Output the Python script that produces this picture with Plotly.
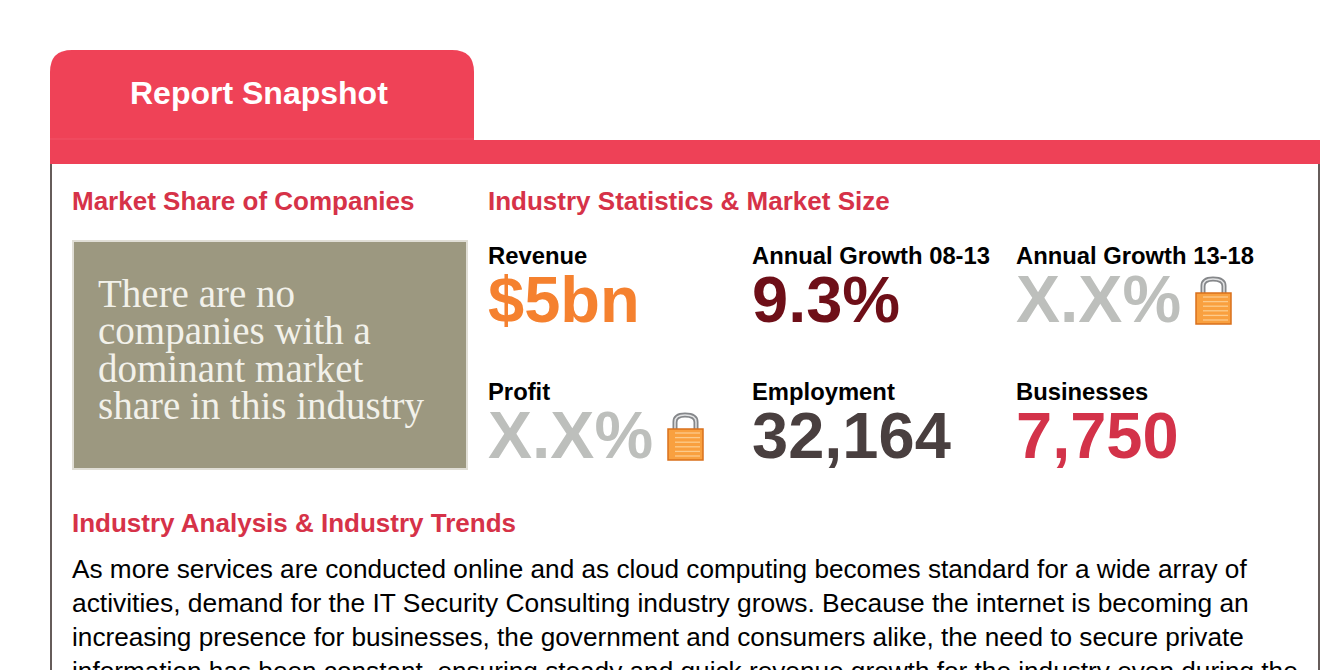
import plotly.graph_objects as go

# stat block
stat_labels = ["Revenue", "Annual Growth 08-13", "Annual Growth 13-18", "Profit", "Employment", "Businesses"]
stat_values = ["$5bn", "9.3%", "X.X%", "X.X%", "32,164", "7,750"]
stat_colors = ["#F5812F", "#6E0F18", "#BDBFBC", "#BDBFBC", "#493F3F", "#D33249"]
stat_sizes = [65, 65, 66, 66, 65, 65]
stat_x = [488, 752, 1016, 488, 752, 1016]
stat_y = [255, 255, 255, 391, 391, 391]

box_lines = ["There are no", "companies with a", "dominant market", "share in this industry"]
box_y = [293, 331, 368, 406]

body_lines = [
    "As more services are conducted online and as cloud computing becomes standard for a wide array of",
    "activities, demand for the IT Security Consulting industry grows. Because the internet is becoming an",
    "increasing presence for businesses, the government and consumers alike, the need to secure private",
    "information has been constant, ensuring steady and quick revenue growth for the industry even during the",
]
body_top = [554, 588, 622, 656]
body_sizes = [26.2, 26.38, 26.2, 26.2]

headings = ["Market Share of Companies", "Industry Statistics & Market Size", "Industry Analysis & Industry Trends"]
heading_x = [72, 488, 72]
heading_y = [201, 201, 523]

RED = "#EF4257"
HEAD = "#D63248"
SANS = "Liberation Sans"

fig = go.Figure()
shapes = []
annots = []


def text(x, y, s, size, color, bold=False, family=SANS, anchor="left", vanchor="middle"):
    annots.append(dict(x=x, y=y, xref="x", yref="y", text=f"<b>{s}</b>" if bold else s, showarrow=False,
                       xanchor=anchor, yanchor=vanchor, font=dict(family=family, size=size, color=color),
                       borderpad=0, borderwidth=0))


def rect(x0, y0, x1, y1, fill, line=None, width=0):
    shapes.append(dict(type="rect", x0=x0, y0=y0, x1=x1, y1=y1, fillcolor=fill,
                       line=dict(color=line or fill, width=width), layer="above"))


def lock(x, y):
    # shackle then body, x/y is the top left of the icon
    arch = f"M {x+7} {y+18} L {x+7} {y+10} Q {x+7} {y+3} {x+17} {y+3} Q {x+28} {y+3} {x+28} {y+10} L {x+28} {y+18}"
    shapes.append(dict(type="path", path=arch, line=dict(color="#85878A", width=5), layer="above"))
    shapes.append(dict(type="path", path=arch, line=dict(color="#E2E3E4", width=1.5), layer="above"))
    rect(x, y + 17, x + 35, y + 48, "#F9A03F", "#D9701C", 1.5)
    for i in range(6):
        yy = y + 21 + i * 4.6
        shapes.append(dict(type="line", x0=x + 7, x1=x + 32, y0=yy, y1=yy,
                           line=dict(color="#FCCB8C", width=1.3), layer="above"))


# panel outline, tab and band
shapes.append(dict(type="line", x0=51, x1=51, y0=160, y1=670, line=dict(color="#665C5A", width=2), layer="above"))
shapes.append(dict(type="line", x0=1319, x1=1319, y0=160, y1=670, line=dict(color="#665C5A", width=2), layer="above"))
shapes.append(dict(type="path", path="M 50 141 L 50 72 Q 50 50 72 50 L 452 50 Q 474 50 474 72 L 474 141 Z",
                   fillcolor=RED, line=dict(width=0), layer="above"))
rect(50, 140, 1320, 164, "#EE4157")
shapes.append(dict(type="line", x0=50, x1=474, y0=139, y1=139, line=dict(color="#F05369", width=1), layer="above"))
rect(73, 241, 467, 469, "#9C9880", "#E0DED6", 2)

text(259, 93, "Report Snapshot", 32, "white", True, anchor="center")
for s, x, y in zip(headings, heading_x, heading_y):
    text(x, y, s, 26, HEAD, True)
for s, y in zip(box_lines, box_y):
    text(98, y, s, 39, "#F2F1EA", family="Liberation Serif")
for lab, val, col, size, x, y in zip(stat_labels, stat_values, stat_colors, stat_sizes, stat_x, stat_y):
    text(x, y, lab, 23.8, "black", True)
    text(x, y + 44, val, size, col, True)
for s, y, size in zip(body_lines, body_top, body_sizes):
    text(72, y, s, size, "black", vanchor="top")
lock(1196, 276)
lock(668, 412)

fig.update_layout(width=1336, height=670, margin=dict(l=0, r=0, t=0, b=0), paper_bgcolor="white", plot_bgcolor="white",
                  showlegend=False, shapes=shapes, annotations=annots,
                  xaxis=dict(range=[0, 1336], visible=False, fixedrange=True),
                  yaxis=dict(range=[670, 0], visible=False, fixedrange=True))
fig.write_html("out.html", config=dict(displayModeBar=False), post_script="document.body.style.margin='0';")
